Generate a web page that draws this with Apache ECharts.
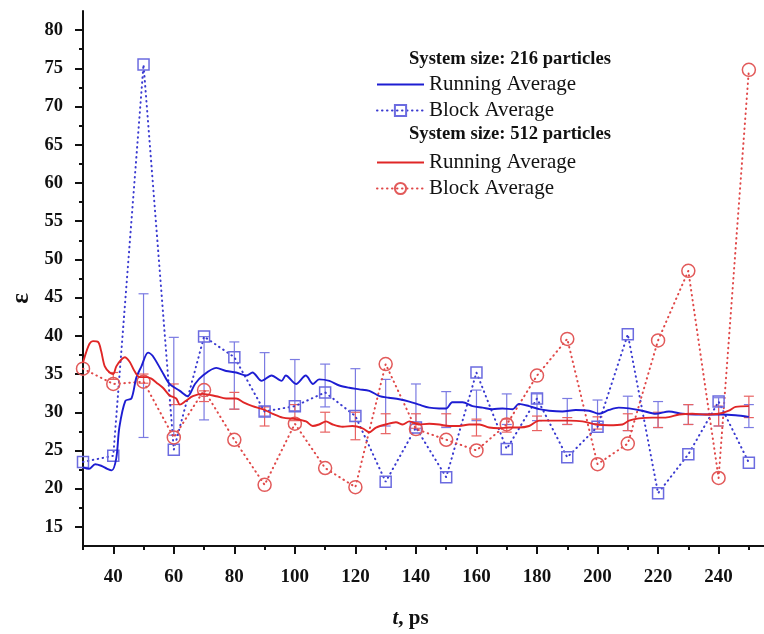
<!DOCTYPE html>
<html><head><meta charset="utf-8">
<script src="https://cdn.jsdelivr.net/npm/echarts@6/dist/echarts.min.js"></script>
<style>html,body{margin:0;padding:0;background:#fff}#c{width:764px;height:634px}</style>
</head><body><div id="c"></div>
<script>
// ---- data ----
const blockTimes = [30,40,50,60,70,80,90,100,110,120,130,140,150,160,170,180,190,200,210,220,230,240,250];
const block216 = [23.5,24.3,75.5,25.1,39.9,37.2,30.1,30.8,32.6,29.5,20.9,28.0,21.5,35.2,25.2,31.8,24.1,28.1,40.2,19.4,24.5,31.4,23.4];
const block512 = [35.7,33.7,34.0,26.7,32.9,26.4,20.5,28.5,22.7,20.2,36.3,27.8,26.4,25.0,28.4,34.8,39.6,23.2,25.9,39.4,48.5,21.4,74.8];

const errTimes216 = [50,60,70,80,90,100,110,120,130,140,150,160,170,180,190,200,210,220,230,240,250];
const errLow216  = [26.7,27.0,29.0,30.4,29.5,30.2,30.7,28.8,28.2,28.4,28.0,28.9,28.4,28.9,28.4,28.5,27.6,28.0,28.4,28.2,28.0];
const errHigh216 = [45.5,39.8,39.9,39.2,37.8,36.9,36.3,35.7,34.3,33.7,32.7,32.9,32.4,32.4,31.8,31.6,32.1,31.4,31.0,31.9,31.0];

const errTimes512 = [40,50,60,70,80,90,100,110,120,130,140,150,160,170,180,190,200,210,220,230,240,250];
const errLow512  = [34.3,33.8,31.0,31.4,30.4,28.2,28.9,27.4,26.4,27.2,27.9,28.2,26.9,27.4,27.6,28.4,27.8,27.6,28.0,28.4,28.2,29.3];
const errHigh512 = [35.2,35.0,33.7,32.8,32.6,30.7,31.0,30.0,30.0,29.8,29.8,29.8,29.1,29.1,29.5,29.3,29.4,29.8,30.0,31.0,30.8,32.1];

const runTime216 = [30,32,34,36,38,39.5,41,42,44,46,47.6,49.3,51.5,53,56,58.6,62,64.6,67,69.6,74,77.3,80.6,84,86,89,92.3,95.6,97,100.4,103.6,106,108,111.4,114.7,118,121.3,124.6,128,131,134.5,137.8,141,144.4,147.7,150,152,155.4,158.7,162,165.3,168.6,172,174,177.4,180.7,184,188.4,192.8,197.2,200.5,203.8,207,210.4,214.8,219.2,223.6,228,232.4,236.8,241.2,245.6,250];
const run216 = [22.8,22.6,23.2,23.0,22.6,22.4,24.0,28.0,31.5,31.8,34.5,36.0,37.8,37.4,35.4,33.7,32.8,32.1,33.7,34.8,35.8,35.4,35.2,34.8,35.2,34.1,34.8,34.1,34.8,33.7,34.8,33.7,34.3,34.1,33.5,33.2,33.0,32.8,32.1,31.9,31.7,31.4,31.0,30.6,30.5,30.5,31.3,31.3,30.8,30.6,30.4,30.5,30.4,31.1,30.8,30.4,30.2,30.1,30.3,30.2,29.8,30.3,30.6,30.5,30.2,29.8,30.1,29.8,29.7,29.7,29.7,29.6,29.4];

const runTime512 = [30,31,32.2,33.3,35,36,37.2,38.8,40,41,42.7,43.8,45.4,47,48.7,50.9,52.6,54.2,56.4,58.6,60.8,62,64,66.3,69.6,74,77.3,80.6,83,86,89.4,92.7,96,100.4,103.7,105.9,108,110.3,112.5,115.8,119,122.4,124.6,126.8,130,133.4,135.6,137.8,141,144.4,147.7,151,154.3,157.6,161,164.2,167.5,170.8,174,177.4,180.7,186,190.6,195,199.4,203.8,208.2,210.4,213.7,218,222.5,227,231.3,235.7,240,243.4,245.6,250];
const run512 = [36.5,37.8,39.0,39.3,39.2,38.0,36.0,35.2,35.0,36.0,36.9,37.2,36.6,35.4,34.6,34.6,34.4,33.9,33.2,32.2,31.8,31.0,31.5,32.1,32.4,32.1,31.8,31.8,31.3,30.8,30.4,29.8,29.3,29.1,28.8,28.2,28.4,28.8,28.4,28.1,28.2,27.9,27.4,28.0,28.4,28.7,28.4,28.8,28.4,28.5,28.4,28.2,28.2,28.4,28.4,28.0,27.9,28.0,28.0,28.2,28.9,28.9,28.9,28.8,28.4,28.3,28.4,28.9,29.2,29.3,29.3,29.7,29.8,29.7,29.8,30.2,30.7,30.8];

const yMajorTicks = [15,20,25,30,35,40,45,50,55,60,65,70,75,80];
const yMinorTicks = [17.5,22.5,27.5,32.5,37.5,42.5,47.5,52.5,57.5,62.5,67.5,72.5,77.5];
const xMajorTicks = [40,60,80,100,120,140,160,180,200,220,240];
const xMinorTicks = [30,50,70,90,110,130,150,170,190,210,230,250];

const header216 = 'System size: 216 particles';
const header512 = 'System size: 512 particles';

// ---- chart ----
const SERIF = 'Liberation Serif';
const zip = (a, b) => a.map((v, i) => [v, b[i]]);
const zip3 = (a, b, c) => a.map((v, i) => [v, b[i], c[i]]);

function errRender(color) {
  return function (params, api) {
    const x = api.value(0), lo = api.value(1), hi = api.value(2);
    const p1 = api.coord([x, lo]), p2 = api.coord([x, hi]);
    const w = 5;
    const style = { stroke: color, lineWidth: 1.2, fill: null };
    return { type: 'group', children: [
      { type: 'line', shape: { x1: p1[0], y1: p1[1], x2: p2[0], y2: p2[1] }, style },
      { type: 'line', shape: { x1: p1[0] - w, y1: p1[1], x2: p1[0] + w, y2: p1[1] }, style },
      { type: 'line', shape: { x1: p2[0] - w, y1: p2[1], x2: p2[0] + w, y2: p2[1] }, style }
    ]};
  };
}

const axisLineStyle = { color: '#111', width: 2 };
const chart = echarts.init(document.getElementById('c'), null, { renderer: 'canvas' });
const legendText = { fontFamily: SERIF, fontSize: 21, lineHeight: 20, color: '#111' };
const headStyle = { fontFamily: SERIF, fontWeight: 'bold', fontSize: 18.6, color: '#111' };
chart.setOption({
  animation: false,
  backgroundColor: '#fff',
  title: [
    { text: header216, left: 409, top: 50, padding: 0, textStyle: headStyle },
    { text: header512, left: 409, top: 125, padding: 0, textStyle: headStyle }
  ],
  legend: [
    { data: [{ name: 'Running Average 216', itemStyle: { opacity: 0 } }, { name: 'Block Average 216' }],
      orient: 'vertical', left: 376, top: 74, padding: 0,
      itemWidth: 47, itemHeight: 14, itemGap: 5, selectedMode: false,
      formatter: n => n.replace(/ \d+$/, ''), textStyle: legendText },
    { data: [{ name: 'Running Average 512', itemStyle: { opacity: 0 } }, { name: 'Block Average 512' }],
      orient: 'vertical', left: 376, top: 152, padding: 0,
      itemWidth: 47, itemHeight: 14, itemGap: 5, selectedMode: false,
      formatter: n => n.replace(/ \d+$/, ''), textStyle: legendText }
  ],
  grid: { left: 83, right: 0, top: 11, bottom: 85, containLabel: false },
  xAxis: [
    { type: 'value', min: 30, max: 255, position: 'bottom',
      name: '{i|t}, ps', nameLocation: 'middle', nameGap: 62,
      nameTextStyle: { fontFamily: SERIF, fontWeight: 'bold', fontSize: 21, color: '#111', padding: [0, 26, 0, 0],
        rich: { i: { fontFamily: SERIF, fontWeight: 'bold', fontStyle: 'italic', fontSize: 21, color: '#111' } } },
      axisLine: { show: true, onZero: false, lineStyle: axisLineStyle },
      axisTick: { show: true, inside: false, length: 8, lineStyle: { color: '#111', width: 2 }, customValues: xMajorTicks },
      axisLabel: { show: true, margin: 22, customValues: xMajorTicks, fontFamily: SERIF, fontWeight: 'bold', fontSize: 19, color: '#111' },
      splitLine: { show: false } },
    { type: 'value', min: 30, max: 255, position: 'bottom',
      axisLine: { show: false },
      axisTick: { show: true, inside: false, length: 4, lineStyle: { color: '#111', width: 2 }, customValues: xMinorTicks },
      axisLabel: { show: false }, splitLine: { show: false } }
  ],
  yAxis: [
    { type: 'value', min: 12.5, max: 82.5, position: 'left',
      name: 'ε', nameLocation: 'middle', nameGap: 42,
      nameTextStyle: { fontFamily: SERIF, fontWeight: 'bold', fontSize: 25, color: '#111', padding: [0, 40, 0, 0] },
      axisLine: { show: true, onZero: false, lineStyle: axisLineStyle },
      axisTick: { show: true, inside: false, length: 8, lineStyle: { color: '#111', width: 2 }, customValues: yMajorTicks },
      axisLabel: { show: true, margin: 20, customValues: yMajorTicks, fontFamily: SERIF, fontWeight: 'bold', fontSize: 18.5, color: '#111' },
      splitLine: { show: false } },
    { type: 'value', min: 12.5, max: 82.5, position: 'left',
      axisLine: { show: false },
      axisTick: { show: true, inside: false, length: 4, lineStyle: { color: '#111', width: 2 }, customValues: yMinorTicks },
      axisLabel: { show: false }, splitLine: { show: false } }
  ],
  series: [
    { name: 'err216', type: 'custom', renderItem: errRender('#7b7be2'), data: zip3(errTimes216, errLow216, errHigh216),
      encode: { x: 0, y: [1, 2] }, z: 1, silent: true },
    { name: 'err512', type: 'custom', renderItem: errRender('#e86262'), data: zip3(errTimes512, errLow512, errHigh512),
      encode: { x: 0, y: [1, 2] }, z: 1, silent: true },
    { name: 'Block Average 216', type: 'line', data: zip(blockTimes, block216), z: 2,
      symbol: 'rect', symbolSize: 11, showAllSymbol: true,
      itemStyle: { color: 'rgba(0,0,0,0)', borderColor: '#6b6be0', borderWidth: 1.5 },
      lineStyle: { color: '#3a3ad0', width: 2, type: [0.5, 4.5], cap: 'round' } },
    { name: 'Block Average 512', type: 'line', data: zip(blockTimes, block512), z: 2,
      symbol: 'circle', symbolSize: 13, showAllSymbol: true,
      itemStyle: { color: 'rgba(0,0,0,0)', borderColor: '#e25a5a', borderWidth: 1.5 },
      lineStyle: { color: '#e04848', width: 2, type: [0.5, 4.5], cap: 'round' } },
    { name: 'Running Average 216', type: 'line', data: zip(runTime216, run216), z: 3,
      symbol: 'none', smooth: 0.3, lineStyle: { color: '#1d1dd2', width: 1.9 }, itemStyle: { color: '#1d1dd2' } },
    { name: 'Running Average 512', type: 'line', data: zip(runTime512, run512), z: 3,
      symbol: 'none', smooth: 0.3, lineStyle: { color: '#e02626', width: 1.9 }, itemStyle: { color: '#e02626' } }
  ]
});
</script>
</body></html>
